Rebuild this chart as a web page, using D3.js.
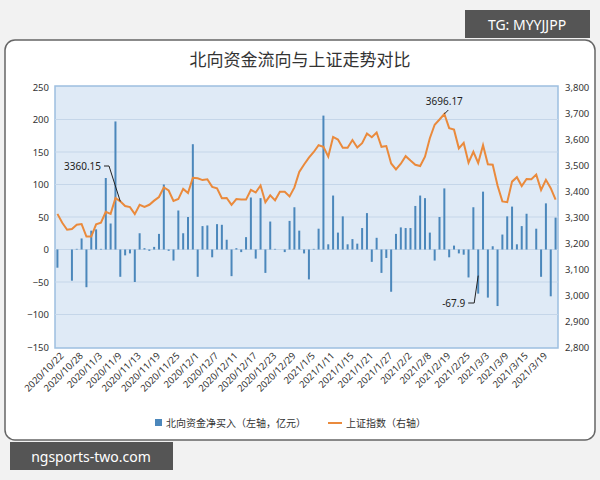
<!DOCTYPE html>
<html><head><meta charset="utf-8">
<script src="https://cdn.jsdelivr.net/npm/d3@7"></script>
<style>body{margin:0;background:#f2f2f2;font-family:"Noto Sans CJK SC","Noto Sans",sans-serif}</style>
</head><body><svg id="c" width="600" height="480"></svg>
<script>
const dates=["2020/10/22","2020/10/23","2020/10/26","2020/10/27","2020/10/28","2020/10/29","2020/10/30","2020/11/2","2020/11/3","2020/11/4","2020/11/5","2020/11/6","2020/11/9","2020/11/10","2020/11/11","2020/11/12","2020/11/13","2020/11/16","2020/11/17","2020/11/18","2020/11/19","2020/11/20","2020/11/23","2020/11/24","2020/11/25","2020/11/26","2020/11/27","2020/11/30","2020/12/1","2020/12/2","2020/12/3","2020/12/4","2020/12/7","2020/12/8","2020/12/9","2020/12/10","2020/12/11","2020/12/14","2020/12/15","2020/12/16","2020/12/17","2020/12/18","2020/12/21","2020/12/22","2020/12/23","2020/12/24","2020/12/25","2020/12/28","2020/12/29","2020/12/30","2020/12/31","2021/1/4","2021/1/5","2021/1/6","2021/1/7","2021/1/8","2021/1/11","2021/1/12","2021/1/13","2021/1/14","2021/1/15","2021/1/18","2021/1/19","2021/1/20","2021/1/21","2021/1/22","2021/1/25","2021/1/26","2021/1/27","2021/1/28","2021/1/29","2021/2/1","2021/2/2","2021/2/3","2021/2/4","2021/2/5","2021/2/8","2021/2/9","2021/2/10","2021/2/18","2021/2/19","2021/2/22","2021/2/23","2021/2/24","2021/2/25","2021/2/26","2021/3/1","2021/3/2","2021/3/3","2021/3/4","2021/3/5","2021/3/8","2021/3/9","2021/3/10","2021/3/11","2021/3/12","2021/3/15","2021/3/16","2021/3/17","2021/3/18","2021/3/19","2021/3/22","2021/3/23","2021/3/24"];
const northFlow=[-28,0,0,-48,1,17,-58,29,31,1,110,40,197,-42,-9,-6,-50,25,2,-2,4,24,100,-2,-17,60,25,50,162,-42,36,37,-12,39,38,15,-41,2,-4,19,80,-14,79,-36,43,1,0,-4,44,65,29,-6,-46,1,32,206,8,83,26,51,8,16,9,33,56,-19,18,-36,-13,-65,24,34,33,33,67,83,79,26,-17,50,94,-12,6,-6,-8,-43,65,-67.9,89,-74,5,-87,23,51,66,8,36,55,0,32,-42,71,-72,49];
const sseIndex=[3312,3278,3251,3254,3270,3273,3225,3225,3272,3278,3320,3312,3373,3360.15,3342,3338,3311,3347,3339,3347,3363,3377,3414,3402,3362,3369,3408,3392,3451,3449,3442,3445,3416,3410,3372,3373,3347,3369,3367,3367,3404,3394,3421,3357,3383,3364,3397,3397,3379,3414,3473,3502,3528,3550,3576,3570,3532,3608,3598,3566,3566,3596,3567,3584,3621,3607,3625,3570,3573,3506,3483,3505,3534,3517,3501,3496,3532,3603,3655,3675,3696.17,3642,3636,3564,3585,3509,3551,3508,3576,3503,3501,3421,3360,3357,3436,3453,3419,3446,3445,3463,3404,3443,3411,3367];
const leftTicks=[-150,-100,-50,0,50,100,150,200,250];
const rightTicks=[2800,2900,3000,3100,3200,3300,3400,3500,3600,3700,3800];
const title="北向资金流向与上证走势对比";

const svg=d3.select("#c");
svg.append("rect").attr("x",5).attr("y",40).attr("width",590).attr("height",400).attr("rx",10).attr("fill","#fff").attr("stroke","#666").attr("stroke-width",1.5);
svg.append("text").attr("x",300).attr("y",66).attr("text-anchor","middle").attr("font-size",17).attr("fill","#333").text(title);
const L=55,R=558,T=87,B=347;
svg.append("rect").attr("x",L).attr("y",T-1).attr("width",R-L).attr("height",B-T+2).attr("fill","#dfeaf6").attr("stroke","#9dbfe0").attr("stroke-width",1.5);
const x=d3.scaleBand().domain(dates).range([L,R]);
const yl=d3.scaleLinear().domain([-150,250]).range([B,T]);
const yr=d3.scaleLinear().domain([2800,3800]).range([B,T]);
svg.append("g").selectAll("line").data(leftTicks.slice(1,-1)).join("line").attr("x1",L).attr("x2",R).attr("y1",d=>yl(d)).attr("y2",d=>yl(d)).attr("stroke","#c5d6e9");
const ga=svg.append("g").attr("transform",`translate(${L-2},0)`).call(d3.axisLeft(yl).tickValues(leftTicks).tickSize(0).tickPadding(4));
const gb=svg.append("g").attr("transform",`translate(${R+3},0)`).call(d3.axisRight(yr).tickValues(rightTicks).tickSize(0).tickPadding(4).tickFormat(d3.format(",")));
const gx=svg.append("g").attr("transform",`translate(0,${B})`).call(d3.axisBottom(x).tickValues(dates.filter((d,i)=>i%4==0)).tickSize(0));
[ga,gb,gx].forEach(g=>{g.select(".domain").remove();g.selectAll("text").attr("font-size",9.5).attr("fill","#333").attr("font-family","Noto Sans");});
gx.selectAll("text").attr("text-anchor","end").attr("transform","translate(4,4) rotate(-45)").attr("dy","0.3em").attr("dx","-0.2em");
svg.append("g").selectAll("rect").data(northFlow).join("rect")
 .attr("x",(d,i)=>x(dates[i])+x.bandwidth()/2-1).attr("width",2)
 .attr("y",d=>yl(Math.max(0,d))).attr("height",d=>Math.abs(yl(d)-yl(0))).attr("fill","#4b87bb");
const line=d3.line().x((d,i)=>x(dates[i])+x.bandwidth()/2).y(d=>yr(d));
svg.append("path").datum(sseIndex).attr("d",line).attr("fill","none").attr("stroke","#ea8a3c").attr("stroke-width",2);
function ann(px,py,tx,ty,label,anchor){
 svg.append("polyline").attr("points",`${tx},${ty} ${tx+ (anchor=="end"?5:0)},${ty} ${px},${py}`).attr("fill","none").attr("stroke","#222");
}
let i1=13,p1x=x(dates[i1])+x.bandwidth()/2,p1y=yr(sseIndex[i1]);
svg.append("polyline").attr("points",`${104},${166} ${109},${166} ${p1x},${p1y}`).attr("fill","none").attr("stroke","#222");
svg.append("text").attr("x",101).attr("y",170).attr("text-anchor","end").attr("font-size",10).attr("font-family","Noto Sans").attr("fill","#222").text(sseIndex[i1].toFixed(2));
let i2=80,p2x=x(dates[i2])+x.bandwidth()/2,p2y=yr(sseIndex[i2]);
svg.append("line").attr("x1",p2x).attr("y1",p2y).attr("x2",p2x+4).attr("y2",p2y-4).attr("stroke","#222");
svg.append("text").attr("x",p2x).attr("y",p2y-9).attr("text-anchor","middle").attr("font-size",10).attr("font-family","Noto Sans").attr("fill","#222").text(sseIndex[i2].toFixed(2));
let i3=87,p3x=x(dates[i3])+x.bandwidth()/2,p3y=yl(northFlow[i3]);
svg.append("polyline").attr("points",`${p3x},${p3y-18} ${p3x-4},${303} ${p3x-10},${303}`).attr("fill","none").attr("stroke","#222");
svg.append("text").attr("x",p3x-13).attr("y",307).attr("text-anchor","end").attr("font-size",10).attr("font-family","Noto Sans").attr("fill","#222").text(northFlow[i3]);
const lg=svg.append("g").attr("font-size",10).attr("fill","#333");
lg.append("rect").attr("x",155).attr("y",419).attr("width",7).attr("height",7).attr("fill","#4b87bb");
lg.append("text").attr("x",166).attr("y",427).text("北向资金净买入（左轴，亿元）");
lg.append("line").attr("x1",328).attr("x2",342).attr("y1",423).attr("y2",423).attr("stroke","#ea8a3c").attr("stroke-width",2);
lg.append("text").attr("x",346).attr("y",427).text("上证指数（右轴）");
svg.append("rect").attr("x",465).attr("y",10).attr("width",125).attr("height",28).attr("fill","#555");
svg.append("text").attr("x",527).attr("y",30).attr("text-anchor","middle").attr("fill","#fff").attr("font-size",14).attr("font-family","Noto Sans").text("TG: MYYJJPP");
svg.append("rect").attr("x",10).attr("y",442).attr("width",163).attr("height",28).attr("fill","#555");
svg.append("text").attr("x",91).attr("y",462).attr("text-anchor","middle").attr("fill","#fff").attr("font-size",14).attr("font-family","Noto Sans").text("ngsports-two.com");
</script></body></html>
